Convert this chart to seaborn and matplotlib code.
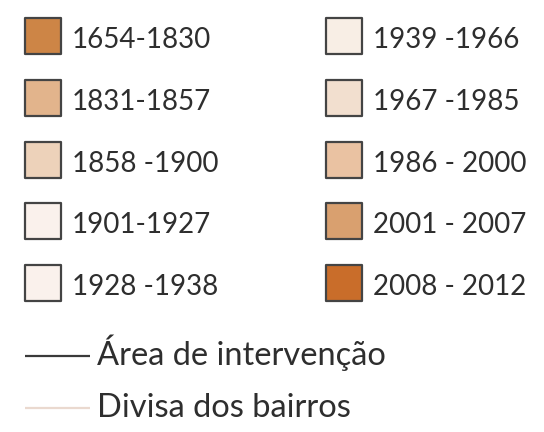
import matplotlib.pyplot as plt
import pandas as pd
import seaborn as sns

periods = ['1654-1830', '1831-1857', '1858 -1900', '1901-1927', '1928 -1938',
           '1939 -1966', '1967 -1985', '1986 - 2000', '2001 - 2007', '2008 - 2012']
fill_colors = ['#cd8546', '#e2b48c', '#edd2ba', '#faf1ec', '#faf1ec',
               '#f8eee5', '#f2dfcf', '#eac2a2', '#d9a06f', '#c96d2a']

line_labels = ['Área de intervenção', 'Divisa dos bairros']
line_colors = ['#3a3a3a', '#ead9cf']

sns.set_theme(style='white')
plt.rcParams['font.family'] = ['Lato', 'DejaVu Sans']

# layout in pixel units (figure is 544x432)
rows_per_col = 5
x0, dx = 43, 301
y0, dy = 36, 61.8
side_pt = 36 * 72 / 100

df = pd.DataFrame({'period': periods, 'color': fill_colors})
df['col'] = [i // rows_per_col for i in range(len(df))]
df['row'] = [i % rows_per_col for i in range(len(df))]
df['x'] = x0 + df['col'] * dx
df['y'] = y0 + df['row'] * dy

fig = plt.figure(figsize=(5.44, 4.32), dpi=100)
ax = fig.add_axes([0, 0, 1, 1])
ax.set_xlim(0, 544)
ax.set_ylim(432, 0)
ax.axis('off')

sns.scatterplot(data=df, x='x', y='y', hue='period',
                palette=dict(zip(periods, fill_colors)),
                marker='s', s=side_pt ** 2, edgecolor='#444444',
                linewidth=1.6, legend=False, ax=ax)

for r in df.itertuples():
    ax.text(r.x + 29, r.y + 12, r.period, fontsize=20, color='#2e2e2e',
            ha='left', va='baseline')

ly0, ldy = 356, 52
for i, (lab, c) in enumerate(zip(line_labels, line_colors)):
    y = ly0 + i * ldy
    ax.plot([25, 90], [y, y], color=c, lw=1.6, solid_capstyle='butt')
    ax.text(97, y + 9, lab, fontsize=23.5, color='#2e2e2e',
            ha='left', va='baseline')

plt.savefig('out.png', dpi=100)
